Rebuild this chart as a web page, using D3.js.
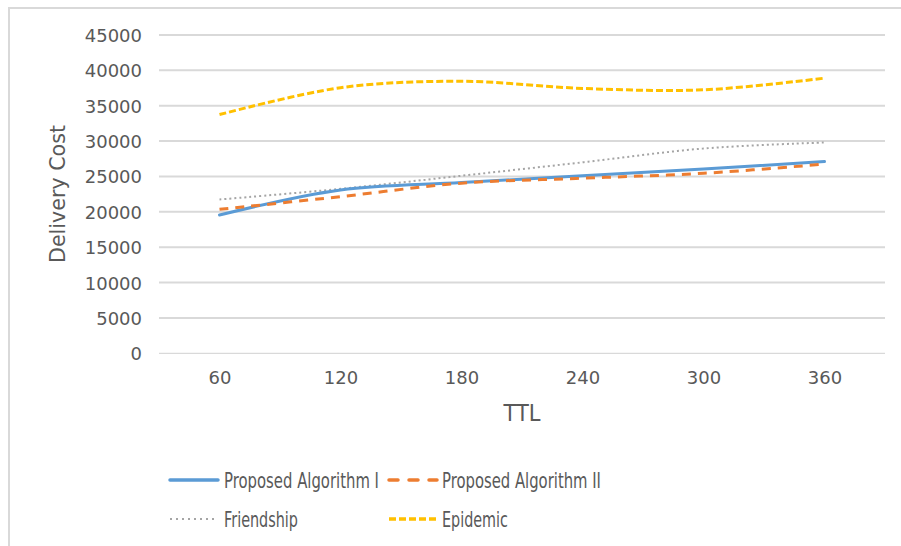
<!DOCTYPE html>
<html><head><meta charset="utf-8">
<script src="https://cdn.jsdelivr.net/npm/d3@7"></script>
<style>body{margin:0;background:#fff}svg{display:block}text{font-family:"DejaVu Sans ExtraLight","DejaVu Sans",sans-serif;fill:#595959}</style>
</head><body><svg id="c" width="901" height="546"></svg>
<script>
const categories = ["60","120","180","240","300","360"];
const yTicks = [0,5000,10000,15000,20000,25000,30000,35000,40000,45000];
const proposed1 = [19550,23100,24150,25100,26050,27100];
const proposed2 = [20350,22150,24050,24750,25450,26750];
const friendship = [21750,23250,25100,27000,28950,29800];
const epidemic = [33750,37550,38450,37450,37250,38900];
const seriesNames = ["Proposed Algorithm I","Proposed Algorithm II","Friendship","Epidemic"];

const FONT = '"DejaVu Sans ExtraLight","DejaVu Sans",sans-serif';
const svg = d3.select("#c");
svg.append("rect").attr("x",9).attr("y",8).attr("width",1000).attr("height",1000)
  .attr("fill","none").attr("stroke","#d9d9d9").attr("stroke-width",2);

const x = d3.scalePoint().domain(categories).range([159,885]).padding(0.5);
const y = d3.scaleLinear().domain([0,45000]).range([353.3,35]);

svg.append("g").selectAll("line").data(yTicks).join("line")
  .attr("x1",159).attr("x2",885)
  .attr("y1",d=>y(d)).attr("y2",d=>y(d))
  .attr("stroke","#d9d9d9").attr("stroke-width",d=>d===0?1.2:2);

const yAxis = d3.axisLeft(y).tickValues(yTicks).tickSize(0).tickPadding(0).tickFormat(d=>String(d));
const gy = svg.append("g").attr("transform","translate(142,0)").call(yAxis);
gy.select(".domain").remove();
gy.selectAll("text").attr("font-size",18).attr("font-family",FONT).attr("fill","#595959").attr("dy","0.36em");

const xAxis = d3.axisBottom(x).tickSize(0).tickPadding(0);
const gx = svg.append("g").attr("transform","translate(0,370)").call(xAxis);
gx.select(".domain").remove();
gx.selectAll("text").attr("font-size",18).attr("font-family",FONT).attr("fill","#595959").attr("dy","0.75em");

svg.append("text").attr("x",522).attr("y",421).attr("text-anchor","middle")
  .attr("font-size",23).attr("font-family",FONT).attr("textLength",37).attr("lengthAdjust","spacingAndGlyphs").text("TTL");
svg.append("text").attr("transform","translate(65,194) rotate(-90)").attr("text-anchor","middle")
  .attr("font-size",22).attr("font-family",FONT).attr("textLength",138).attr("lengthAdjust","spacingAndGlyphs").text("Delivery Cost");

const styles = [
  {color:"#5B9BD5", w:3, dash:null, cap:"round"},
  {color:"#ED7D31", w:3, dash:"9,7", cap:"butt"},
  {color:"#A5A5A5", w:2, dash:"2,3", cap:"butt"},
  {color:"#FFC000", w:3, dash:"7,3", cap:"butt"}
];
const data = [proposed1,proposed2,friendship,epidemic];
const line = d3.line().x((d,i)=>x(categories[i])).y(d=>y(d)).curve(d3.curveCatmullRom.alpha(0.5));

const order = [3,2,0,1];
order.forEach(k=>{
  svg.append("path").datum(data[k]).attr("d",line).attr("fill","none")
    .attr("stroke",styles[k].color).attr("stroke-width",styles[k].w)
    .attr("stroke-dasharray",styles[k].dash).attr("stroke-linecap",styles[k].cap).attr("stroke-linejoin","round");
});

const legendPos = [
  {lx:170, ly:480, tx:224, ty:488, tl:155},
  {lx:389, ly:480, tx:442, ty:488, tl:159},
  {lx:170, ly:519, tx:224, ty:527, tl:74},
  {lx:389, ly:519, tx:442, ty:527, tl:66}
];
const lg = svg.append("g");
seriesNames.forEach((name,k)=>{
  const p = legendPos[k];
  lg.append("line").attr("x1",p.lx).attr("x2",p.lx+48).attr("y1",p.ly).attr("y2",p.ly)
    .attr("stroke",styles[k].color).attr("stroke-width",k===2?2:3.5)
    .attr("stroke-dasharray",k===1?"9,11":(k===2?"2,4":(k===3?"7,3":null)))
    .attr("stroke-linecap",k<2?"round":"butt");
  lg.append("text").attr("x",p.tx).attr("y",p.ty).attr("font-size",21).attr("font-family",FONT)
    .attr("textLength",p.tl).attr("lengthAdjust","spacingAndGlyphs").text(name);
});
</script></body></html>
